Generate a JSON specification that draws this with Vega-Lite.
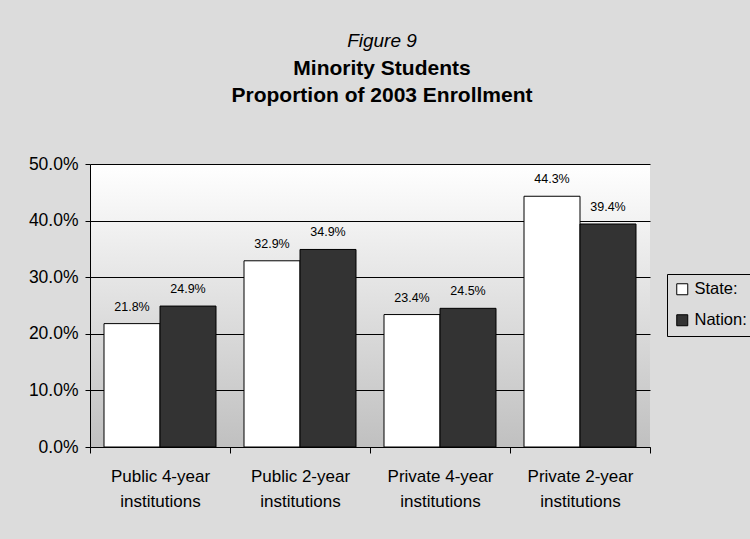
{
  "$schema": "https://vega.github.io/schema/vega-lite/v6.json",
  "autosize": {"type": "none"},
  "width": 560,
  "height": 283,
  "padding": {"left": 90, "top": 164, "right": 100, "bottom": 92},
  "background": "#dcdcdc",
  "title": {
    "text": "Figure 9",
    "subtitle": ["Minority Students", "Proportion of 2003 Enrollment"],
    "anchor": "middle",
    "dx": 12,
    "font": "Liberation Sans",
    "fontSize": 19,
    "fontStyle": "italic",
    "fontWeight": "normal",
    "color": "black",
    "subtitleFont": "Liberation Sans",
    "subtitleFontSize": 21,
    "subtitleFontWeight": "bold",
    "subtitleColor": "black",
    "subtitleLineHeight": 27,
    "subtitlePadding": 7,
    "offset": 49
  },
  "data": {
    "values": [
      {"type": "Public 4-year institutions", "region": "State:", "value": 0.218},
      {"type": "Public 4-year institutions", "region": "Nation:", "value": 0.249},
      {"type": "Public 2-year institutions", "region": "State:", "value": 0.329},
      {"type": "Public 2-year institutions", "region": "Nation:", "value": 0.349},
      {"type": "Private 4-year institutions", "region": "State:", "value": 0.234},
      {"type": "Private 4-year institutions", "region": "Nation:", "value": 0.245},
      {"type": "Private 2-year institutions", "region": "State:", "value": 0.443},
      {"type": "Private 2-year institutions", "region": "Nation:", "value": 0.394}
    ]
  },
  "encoding": {
    "x": {
      "field": "type",
      "type": "nominal",
      "sort": null,
      "scale": {"paddingInner": 0, "paddingOuter": 0},
      "axis": {
        "title": null,
        "labelAngle": 0,
        "labelAlign": "center",
        "tickBand": "extent",
        "labelExpr": "datum.label ? [replace(datum.label, ' institutions', ''), 'institutions'] : ''",
        "labelFont": "Liberation Sans",
        "labelFontSize": 17,
        "labelColor": "black",
        "labelLineHeight": 25,
        "labelPadding": 15,
        "tickColor": "black",
        "tickSize": 6,
        "domainColor": "black"
      }
    },
    "xOffset": {
      "field": "region",
      "sort": ["State:", "Nation:"],
      "scale": {"paddingInner": 0, "paddingOuter": 0.25}
    },
    "y": {
      "field": "value",
      "type": "quantitative",
      "scale": {"domain": [0, 0.5]},
      "axis": {
        "title": null,
        "format": ".1%",
        "values": [0, 0.1, 0.2, 0.3, 0.4, 0.5],
        "labelFont": "Liberation Sans",
        "labelFontSize": 17.5,
        "labelColor": "black",
        "labelPadding": 7,
        "tickColor": "black",
        "tickSize": 5,
        "domainColor": "black",
        "grid": true,
        "gridColor": "black",
        "gridOpacity": 1
      }
    }
  },
  "layer": [
    {
      "mark": {"type": "bar", "stroke": "black", "strokeWidth": 1},
      "encoding": {
        "fill": {
          "field": "region",
          "type": "nominal",
          "sort": ["State:", "Nation:"],
          "scale": {"domain": ["State:", "Nation:"], "range": ["#ffffff", "#333333"]},
          "legend": {
            "orient": "none",
            "legendX": 577,
            "legendY": 110,
            "title": null,
            "symbolType": "square",
            "symbolSize": 121,
            "symbolStrokeColor": "black",
            "symbolStrokeWidth": 1,
            "labelFont": "Liberation Sans",
            "labelFontSize": 16.5,
            "labelColor": "black",
            "labelOffset": 4,
            "strokeColor": "black",
            "padding": 7,
            "rowPadding": 14
          }
        }
      }
    },
    {
      "mark": {"type": "text", "baseline": "alphabetic", "dy": -13, "font": "Liberation Sans", "fontSize": 12.5, "color": "black"},
      "encoding": {
        "text": {"field": "value", "type": "quantitative", "format": ".1%"}
      }
    }
  ],
  "config": {
    "view": {
      "stroke": null,
      "fill": {
        "gradient": "linear",
        "x1": 0, "y1": 0, "x2": 0, "y2": 1,
        "stops": [
          {"offset": 0, "color": "#ffffff"},
          {"offset": 1, "color": "#c0c0c0"}
        ]
      }
    }
  }
}
